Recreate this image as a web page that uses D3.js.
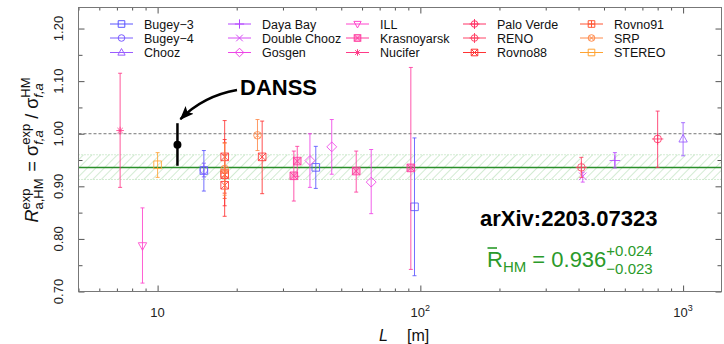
<!DOCTYPE html>
<html>
<head>
<meta charset="utf-8">
<script src="https://cdn.jsdelivr.net/npm/d3@7"></script>
<style>
  body { margin: 0; background: #fff; }
  text { font-family: "Liberation Sans", Arial, Helvetica, sans-serif; }
</style>
</head>
<body>
<svg id="chart" width="724" height="344"></svg>
<script>
// experiments (legend order), their colours and marker symbols
const experiments = ["Bugey−3", "Bugey−4", "Chooz", "Daya Bay", "Double Chooz", "Gosgen",
  "ILL", "Krasnoyarsk", "Nucifer", "Palo Verde", "RENO", "Rovno88", "Rovno91", "SRP", "STEREO"];
const expColors = ["#5a55ff", "#7a5cff", "#9a5cff", "#b447ff", "#d64cf5", "#ee44e6",
  "#ff44cc", "#ff3a9e", "#ff3a88", "#ff3366", "#ff4466", "#ff3333", "#ff5533", "#ff8a4a", "#ffa333"];
const expSymbols = ["square", "circle", "triUp", "plus", "cross", "diamond",
  "triDown", "squareFill", "asterisk", "circlePlus", "circlePlus", "squareX", "squarePlus", "circleX", "square"];

// measurements: experiment index, baseline L [m], ratio, lower and upper error-bar ends
const pointExp  = [0, 0, 0, 1, 2, 3, 4, 5, 5, 5, 6, 7, 7, 7, 7, 8, 9, 10, 11, 11, 11, 11, 12, 13, 13, 14];
const pointL    = [15, 40, 95, 15, 1000, 550, 415, 38, 46, 65, 8.76, 33, 34, 57, 92, 7.2, 800, 410, 18, 18, 18, 25, 18, 18, 24, 10];
const pointR    = [0.930, 0.936, 0.861, 0.931, 0.990, 0.949, 0.919, 0.949, 0.975, 0.908, 0.787, 0.920, 0.948, 0.929, 0.935,
  1.006, 0.990, 0.936, 0.956, 0.922, 0.902, 0.956, 0.925, 0.933, 0.997, 0.941];
const pointLow  = [0.891, 0.896, 0.730, 0.918, 0.958, 0.935, 0.908, 0.898, 0.923, 0.848, 0.716, 0.872, 0.919, 0.889, 0.742,
  0.898, 0.936, 0.917, 0.887, 0.863, 0.843, 0.886, 0.877, 0.883, 0.968, 0.917];
const pointHigh = [0.968, 0.976, 0.992, 0.944, 1.021, 0.964, 0.927, 1.000, 1.027, 0.970, 0.859, 0.967, 0.976, 0.967, 1.126,
  1.115, 1.043, 0.955, 1.025, 0.989, 0.960, 1.024, 0.983, 0.982, 1.027, 0.964];

// DANSS highlighted point
const danssL = 11.9, danssR = 0.979, danssLow = 0.939, danssHigh = 1.020;

// average ratio and its band
const meanR = 0.936, meanLow = 0.913, meanHigh = 0.960;

const xMajor = [10, 100, 1000];
const yMajor = [0.70, 0.80, 0.90, 1.00, 1.10, 1.20];
const yMinor = [0.75, 0.85, 0.95, 1.05, 1.15];

const plotLeft = 78.5, plotRight = 721.5, plotTop = 7.5, plotBottom = 291.5;
const svg = d3.select("#chart");

const x = d3.scaleLog().domain([5, 1400]).range([plotLeft, plotRight]);
const y = d3.scaleLinear().domain([0.70, 1.24]).range([plotBottom, plotTop]);

// hatch pattern for the band
const defs = svg.append("defs");
defs.append("pattern").attr("id", "hatch").attr("width", 6).attr("height", 6)
  .attr("patternUnits", "userSpaceOnUse").attr("patternTransform", "rotate(45)")
  .append("line").attr("x1", 0).attr("y1", 0).attr("x2", 0).attr("y2", 6)
  .attr("stroke", "#a8d8a8").attr("stroke-width", 1);
defs.append("marker").attr("id", "arrow").attr("markerUnits", "userSpaceOnUse")
  .attr("markerWidth", 16).attr("markerHeight", 12).attr("refX", 13).attr("refY", 5.5)
  .attr("orient", "auto")
  .append("path").attr("d", "M0,0L14,5.5L0,11L3,5.5Z").attr("fill", "#000");

svg.append("rect").attr("x", plotLeft).attr("width", plotRight - plotLeft)
  .attr("y", y(meanHigh)).attr("height", y(meanLow) - y(meanHigh))
  .attr("fill", "url(#hatch)");
[meanLow, meanHigh].forEach(v => svg.append("line")
  .attr("x1", plotLeft).attr("x2", plotRight).attr("y1", y(v)).attr("y2", y(v))
  .attr("stroke", "#a8d8a8").attr("stroke-dasharray", "1,2"));
svg.append("line").attr("x1", plotLeft).attr("x2", plotRight)
  .attr("y1", y(meanR)).attr("y2", y(meanR))
  .attr("stroke", "#2a8f2a").attr("stroke-width", 1.5);
svg.append("line").attr("x1", plotLeft).attr("x2", plotRight)
  .attr("y1", y(1)).attr("y2", y(1))
  .attr("stroke", "#777").attr("stroke-dasharray", "3,2");

// axes: minor ticks, then major ones, all pointing inwards
const minorX = x.ticks().filter(v => !xMajor.includes(v));
function inward(axisFn, scale, values, size) {
  return axisFn(scale).tickValues(values).tickSize(size).tickFormat("");
}
const axes = svg.append("g");
axes.append("g").attr("transform", `translate(0,${plotBottom})`).call(inward(d3.axisBottom, x, minorX, -3));
axes.append("g").attr("transform", `translate(0,${plotBottom})`).call(inward(d3.axisBottom, x, xMajor, -6));
axes.append("g").attr("transform", `translate(0,${plotTop})`).call(inward(d3.axisTop, x, minorX, -3));
axes.append("g").attr("transform", `translate(0,${plotTop})`).call(inward(d3.axisTop, x, xMajor, -6));
axes.append("g").attr("transform", `translate(${plotLeft},0)`).call(inward(d3.axisLeft, y, yMinor, -4));
axes.append("g").attr("transform", `translate(${plotLeft},0)`).call(inward(d3.axisLeft, y, yMajor, -6));
axes.append("g").attr("transform", `translate(${plotRight},0)`).call(inward(d3.axisRight, y, yMinor, -4));
axes.append("g").attr("transform", `translate(${plotRight},0)`).call(inward(d3.axisRight, y, yMajor, -6));
axes.selectAll(".domain").remove();
axes.selectAll("line").attr("stroke", "#555");
svg.append("rect").attr("x", plotLeft).attr("y", plotTop).attr("width", plotRight - plotLeft)
  .attr("height", plotBottom - plotTop).attr("fill", "none").attr("stroke", "#777");

// tick labels
svg.append("g").selectAll("text").data(yMajor).join("text")
  .attr("transform", d => `translate(63,${y(d)}) rotate(-90)`)
  .attr("text-anchor", "middle").attr("font-size", 13).attr("fill", "#222")
  .text(d => d.toFixed(2));
const xl = svg.append("g").selectAll("text").data(xMajor).join("text")
  .attr("x", d => x(d)).attr("y", 317).attr("text-anchor", "middle")
  .attr("font-size", 13).attr("fill", "#222");
xl.append("tspan").text("10");
xl.filter(d => d > 10).append("tspan").attr("font-size", 9).attr("dy", -6)
  .text(d => Math.round(Math.log10(d)));

// rich text helper: parts laid out left to right, stacked sup/sub supported
function rich(g, parts, fill) {
  let cx = 0;
  const put = (p, x0) => {
    const t = g.append("text").attr("x", x0).attr("y", p.dy || 0)
      .attr("font-size", p.size).attr("fill", fill)
      .attr("font-style", p.italic ? "italic" : null)
      .style("white-space", "pre").text(p.text);
    return t.node().getComputedTextLength();
  };
  parts.forEach(p => {
    if (p.sup) cx += Math.max(put(p.sup, cx), put(p.sub, cx));
    else cx += put(p, cx);
    cx += p.gap || 0;
  });
  return cx;
}

// y-axis title
const yt = svg.append("g").attr("transform", "translate(38,150) rotate(-90)");
const ytIn = yt.append("g");
const ytW = rich(ytIn, [
  { text: "R", size: 18, italic: true },
  { sup: { text: "exp", size: 13, dy: -8 }, sub: { text: "a,HM", size: 13, dy: 5 }, gap: 2 },
  { text: " = σ", size: 18 },
  { sup: { text: "exp", size: 13, dy: -8 }, sub: { text: "f,a", size: 13, dy: 5, italic: true } },
  { text: " / σ", size: 18 },
  { sup: { text: "HM", size: 13, dy: -8 }, sub: { text: "f,a", size: 13, dy: 5, italic: true } }
], "#111");
ytIn.attr("transform", `translate(${-ytW / 2},0)`);

// x-axis title
svg.append("text").attr("x", 379).attr("y", 341).attr("font-size", 16)
  .attr("font-style", "italic").attr("fill", "#111").text("L");
svg.append("text").attr("x", 407).attr("y", 341).attr("font-size", 16)
  .attr("fill", "#111").text("[m]");

// marker symbols
function symbolPath(type, s) {
  const sq = `M${-s},${-s}H${s}V${s}H${-s}Z`;
  const ci = `M${-s},0A${s},${s} 0 1,0 ${s},0A${s},${s} 0 1,0 ${-s},0Z`;
  const pl = `M${-s},0H${s}M0,${-s}V${s}`;
  const cr = `M${-s},${-s}L${s},${s}M${s},${-s}L${-s},${s}`;
  const c7 = s * 0.7;
  switch (type) {
    case "square": return sq;
    case "circle": return ci;
    case "triUp": return `M0,${-s * 1.2}L${s * 1.1},${s * 0.8}L${-s * 1.1},${s * 0.8}Z`;
    case "triDown": return `M0,${s * 1.2}L${s * 1.1},${-s * 0.8}L${-s * 1.1},${-s * 0.8}Z`;
    case "plus": return `M${-s * 1.4},0H${s * 1.4}M0,${-s * 1.4}V${s * 1.4}`;
    case "cross": return cr;
    case "diamond": return `M0,${-s * 1.3}L${s * 1.3},0L0,${s * 1.3}L${-s * 1.3},0Z`;
    case "asterisk": return pl + `M${-c7},${-c7}L${c7},${c7}M${c7},${-c7}L${-c7},${c7}`;
    case "circlePlus": return ci + `M${-s * 1.5},0H${s * 1.5}M0,${-s * 1.5}V${s * 1.5}`;
    case "circleX": return ci + `M${-c7},${-c7}L${c7},${c7}M${c7},${-c7}L${-c7},${c7}`;
    case "squareX": return sq + cr;
    case "squarePlus": return sq + pl;
    case "squareFill": return sq + cr;
  }
}

const points = pointExp.map((e, i) => ({
  e, L: pointL[i], R: pointR[i], lo: pointLow[i], hi: pointHigh[i]
}));

const marks = svg.append("g").attr("stroke-opacity", 0.85);
const pg = marks.selectAll("g.pt").data(points).join("g").attr("class", "pt")
  .attr("stroke", d => expColors[d.e]).attr("fill", "none");
pg.append("line")
  .attr("x1", d => x(d.L)).attr("x2", d => x(d.L))
  .attr("y1", d => y(d.hi)).attr("y2", d => y(d.lo));
pg.append("path")
  .attr("d", d => `M${x(d.L) - 2},${y(d.hi)}h4M${x(d.L) - 2},${y(d.lo)}h4`);
pg.append("path")
  .attr("transform", d => `translate(${x(d.L)},${y(d.R)})`)
  .attr("d", d => symbolPath(expSymbols[d.e], 3.8))
  .attr("fill", d => expSymbols[d.e] === "squareFill" ? expColors[d.e] : "none")
  .attr("fill-opacity", 0.35);

// DANSS point and annotation
svg.append("line").attr("x1", x(danssL)).attr("x2", x(danssL))
  .attr("y1", y(danssHigh)).attr("y2", y(danssLow))
  .attr("stroke", "#000").attr("stroke-width", 2.5);
svg.append("circle").attr("cx", x(danssL)).attr("cy", y(danssR)).attr("r", 4).attr("fill", "#000");
svg.append("path").attr("d", `M237,90Q203,96 ${x(danssL) + 3},${y(danssHigh) - 4}`)
  .attr("fill", "none").attr("stroke", "#000").attr("stroke-width", 2.5)
  .attr("marker-end", "url(#arrow)");
svg.append("text").attr("x", 240).attr("y", 95).attr("font-size", 22)
  .attr("font-weight", "bold").attr("fill", "#000").text("DANSS");

// legend: 5 columns x 3 rows
const legend = svg.append("g").selectAll("g").data(experiments).join("g")
  .attr("transform", (d, i) => `translate(${[110, 228, 346, 463, 580][Math.floor(i / 3)]},${[24, 38, 52.5][i % 3]})`);
legend.append("line").attr("x1", 0).attr("x2", 23)
  .attr("stroke", (d, i) => expColors[i]);
legend.append("path").attr("transform", "translate(11.5,0)")
  .attr("d", (d, i) => symbolPath(expSymbols[i], 3.3))
  .attr("stroke", (d, i) => expColors[i])
  .attr("fill", (d, i) => expSymbols[i] === "squareFill" ? expColors[i] : "none")
  .attr("fill-opacity", 0.35);
legend.append("text").attr("x", 34).attr("y", 4.5).attr("font-size", 12.5)
  .attr("fill", "#111").text(d => d);

// annotations
svg.append("text").attr("x", 480).attr("y", 226).attr("font-size", 22)
  .attr("font-weight", "bold").attr("fill", "#000").text("arXiv:2203.07323");
const green = "#2a9a2a";
const fg = svg.append("g").attr("transform", "translate(487,267)");
rich(fg, [
  { text: "R", size: 22 },
  { text: "HM", size: 15, dy: 5 },
  { text: " = 0.936", size: 22 },
  { sup: { text: "+0.024", size: 15, dy: -11 }, sub: { text: "−0.023", size: 15, dy: 7 } }
], green);
fg.append("line").attr("x1", 0.5).attr("x2", 10).attr("y1", -19).attr("y2", -19)
  .attr("stroke", green).attr("stroke-width", 1.6);
</script>
</body>
</html>
